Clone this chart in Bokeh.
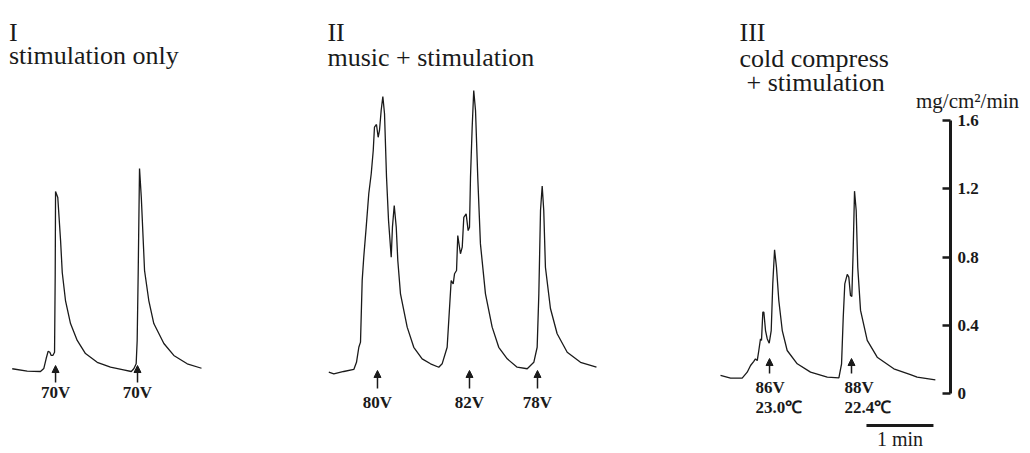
from bokeh.plotting import figure
from bokeh.models import Range1d, LinearAxis, FixedTicker, ColumnDataSource, Arrow, NormalHead
from bokeh.core.properties import value
from bokeh.embed import file_html
from bokeh.resources import INLINE

# ---------------- data ----------------
# time (s, from start of each recording) and sweat rate (mg/cm2/min)
t_I = [0, 13.4, 25.3, 28.3, 30.4, 32.2, 33.7, 34.9, 36.4, 37.9, 38.5, 38.8, 40.8, 43.3, 44.8,
       47.7, 52.2, 58.2, 65.6, 76.1, 88.0, 99.7, 106.6, 108.9, 111.0, 111.9, 112.8, 114.0,
       115.6, 118.5, 122.3, 126.8, 135.8, 144.7, 156.7, 169.5]
v_I = [0.145, 0.131, 0.129, 0.147, 0.205, 0.248, 0.242, 0.223, 0.223, 0.242, 0.703, 1.184,
       1.149, 0.897, 0.709, 0.545, 0.410, 0.311, 0.234, 0.183, 0.154, 0.139, 0.129, 0.145,
       0.174, 0.311, 0.703, 1.319, 1.149, 0.721, 0.545, 0.410, 0.293, 0.223, 0.174, 0.148]

t_II = [0, 4.5, 13.4, 22.4, 24.8, 26.9, 28.4, 29.9, 31.3, 33.5, 35.8, 38.0, 39.8, 40.9, 42.7,
        44.2, 45.4, 46.9, 48.4, 49.9, 51.7, 53.5, 55.9, 57.0, 58.6, 60.4, 61.8, 64.2, 70.2,
        76.1, 83.6, 91.1, 98.5, 101.5, 106.0, 109.6, 111.4, 112.6, 114.4, 115.5, 117.9, 119.5,
        120.9, 123.0, 124.8, 126.0, 126.9, 128.4, 129.8, 131.4, 133.4, 135.8, 140.3, 146.3,
        152.2, 159.8, 168.7, 177.7, 183.6, 186.6, 188.1, 189.6, 191.1, 192.5, 194.0, 198.5,
        204.5, 213.5, 225.4, 239.7]
v_II = [0.125, 0.115, 0.129, 0.141, 0.183, 0.271, 0.301, 0.662, 0.799, 0.975, 1.171, 1.288,
        1.424, 1.561, 1.577, 1.502, 1.542, 1.659, 1.741, 1.640, 1.268, 1.014, 0.799, 0.975,
        1.102, 0.975, 0.780, 0.584, 0.389, 0.271, 0.203, 0.174, 0.154, 0.174, 0.271, 0.662,
        0.643, 0.702, 0.721, 0.926, 0.819, 0.858, 1.033, 1.053, 0.955, 0.975, 1.268, 1.561,
        1.776, 1.659, 1.268, 0.877, 0.584, 0.389, 0.271, 0.203, 0.154, 0.145, 0.183, 0.271,
        0.584, 1.073, 1.216, 1.073, 0.740, 0.498, 0.350, 0.242, 0.183, 0.154]

t_III = [0, 9.0, 19.4, 23.9, 26.9, 29.8, 31.3, 32.9, 34.3, 35.8, 36.7, 37.9, 38.8, 40.3, 41.8,
         43.6, 45.4, 46.8, 48.4, 50.1, 52.2, 55.3, 59.7, 68.7, 80.6, 95.6, 106.0, 108.4, 109.9,
         111.3, 113.5, 114.9, 116.4, 117.6, 118.8, 120.0, 121.5, 122.9, 125.4, 131.4, 140.3,
         155.2, 170.1, 176.1, 192.4]
v_III = [0.106, 0.090, 0.090, 0.125, 0.164, 0.188, 0.203, 0.193, 0.252, 0.321, 0.311, 0.477,
         0.477, 0.369, 0.321, 0.295, 0.369, 0.643, 0.842, 0.740, 0.545, 0.369, 0.252, 0.174,
         0.125, 0.096, 0.092, 0.174, 0.447, 0.643, 0.698, 0.682, 0.574, 0.569, 0.838, 1.186,
         1.073, 0.740, 0.487, 0.311, 0.213, 0.145, 0.111, 0.096, 0.080]

# stimulation times (s) and stimulus labels
stim_I = [38.8, 112.2]
volt_I = ["70V", "70V"]
stim_II = [43.6, 126.0, 186.9]
volt_II = ["80V", "82V", "78V"]
stim_III = [43.9, 117.3]
volt_III = ["86V", "88V"]
temp_III = ["23.0℃", "22.4℃"]

numerals = ["I", "II", "III"]
conditions = ["stimulation only", "music + stimulation", "cold compress"]
condition_III_line2 = "+ stimulation"

y_ticks = [0, 0.4, 0.8, 1.2, 1.6]
y_tick_labels = ["0", "0.4", "0.8", "1.2", "1.6"]
unit_text = "mg/cm²/min"
scale_seconds = 60
scale_text = "1 min"

# ---------------- layout ----------------
SERIF = "Liberation Serif"
INK = "#1a1a1a"
offsets = [10.5, 294.0, 644.8]          # start of each recording on the shared time axis
axis_at = 850.7                          # time position of the vertical scale

p = figure(width=1030, height=453, output_backend="svg", toolbar_location=None,
           x_range=Range1d(0, 922.4), y_range=Range1d(-0.3517, 2.3036),
           x_axis_location=None, y_axis_location=None,
           min_border_left=0, min_border_right=0, min_border_top=0, min_border_bottom=0,
           outline_line_color=None, background_fill_color="white")
p.grid.visible = False

yaxis = LinearAxis(ticker=FixedTicker(ticks=y_ticks), bounds=(0, 1.6), fixed_location=axis_at,
                   major_label_overrides=dict(zip(y_ticks, y_tick_labels)),
                   axis_line_width=3, axis_line_color=INK,
                   major_tick_in=8, major_tick_out=0, major_tick_line_width=2.5,
                   major_tick_line_color=INK, minor_tick_line_color=None,
                   major_label_standoff=7, major_label_text_font=SERIF,
                   major_label_text_font_style="bold", major_label_text_font_size="17px",
                   major_label_text_color=INK)
p.add_layout(yaxis, "right")

# traces
for ts, vs, off in [(t_I, v_I, offsets[0]), (t_II, v_II, offsets[1]), (t_III, v_III, offsets[2])]:
    p.line([t + off for t in ts], vs, line_color=INK, line_width=1.3)

# stimulation arrows
arrow_y = [(0.164, 0.064), (0.135, 0.029), (0.205, 0.117)]
for stims, off, (tip, tail) in [(stim_I, offsets[0], arrow_y[0]), (stim_II, offsets[1], arrow_y[1]),
                                (stim_III, offsets[2], arrow_y[2])]:
    xs = [s + off for s in stims]
    src = ColumnDataSource(dict(x0=xs, x1=xs, y0=[tail] * len(xs), y1=[tip] * len(xs)))
    p.add_layout(Arrow(end=NormalHead(size=7, fill_color=INK, line_color=INK, line_width=1),
                       x_start="x0", y_start="y0", x_end="x1", y_end="y1",
                       line_width=1.5, line_color=INK, source=src))

label_kw = dict(text_font=value(SERIF), text_font_style="bold", text_font_size="17px",
                text_color=INK, text_baseline="middle")
p.text(x=[s + offsets[0] for s in stim_I], y=[0.006] * len(stim_I), text=volt_I,
       text_align="center", **label_kw)
p.text(x=[s + offsets[1] for s in stim_II], y=[-0.053] * len(stim_II), text=volt_II,
       text_align="center", **label_kw)
p.text(x=[s + offsets[2] for s in stim_III], y=[0.035] * len(stim_III), text=volt_III,
       text_align="left", x_offset=[-14, -7], **label_kw)
p.text(x=[s + offsets[2] for s in stim_III], y=[-0.082] * len(stim_III), text=temp_III,
       text_align="left", x_offset=[-14, -7], **label_kw)

# panel titles
title_kw = dict(text_font=value(SERIF), text_font_size="26px", text_color=INK,
                text_baseline="alphabetic", text_align="left")
p.text(x=[7.6, 292.8, 661.8], y=[2.114, 2.116, 2.118], text=numerals, **title_kw)
p.text(x=[7.6, 292.8, 661.8], y=[1.981, 1.971, 1.962], text=conditions, **title_kw)
p.text(x=[668.1], y=[1.825], text=[condition_III_line2], **title_kw)

# unit label
p.text(x=[866.0], y=[1.712], text=[unit_text], text_align="center", text_baseline="alphabetic",
       text_font=value(SERIF), text_font_size="21px", text_color=INK)

# time scale bar
sb_x0 = 775.5
p.segment(x0=[sb_x0], y0=[-0.188], x1=[sb_x0 + scale_seconds], y1=[-0.188],
          line_width=3, line_color=INK)
p.text(x=[sb_x0 + scale_seconds / 2], y=[-0.205], text=[scale_text], text_align="center",
       text_baseline="top", text_font=value(SERIF), text_font_size="20px", text_color=INK)

open("out.html", "w").write(file_html(p, INLINE))
